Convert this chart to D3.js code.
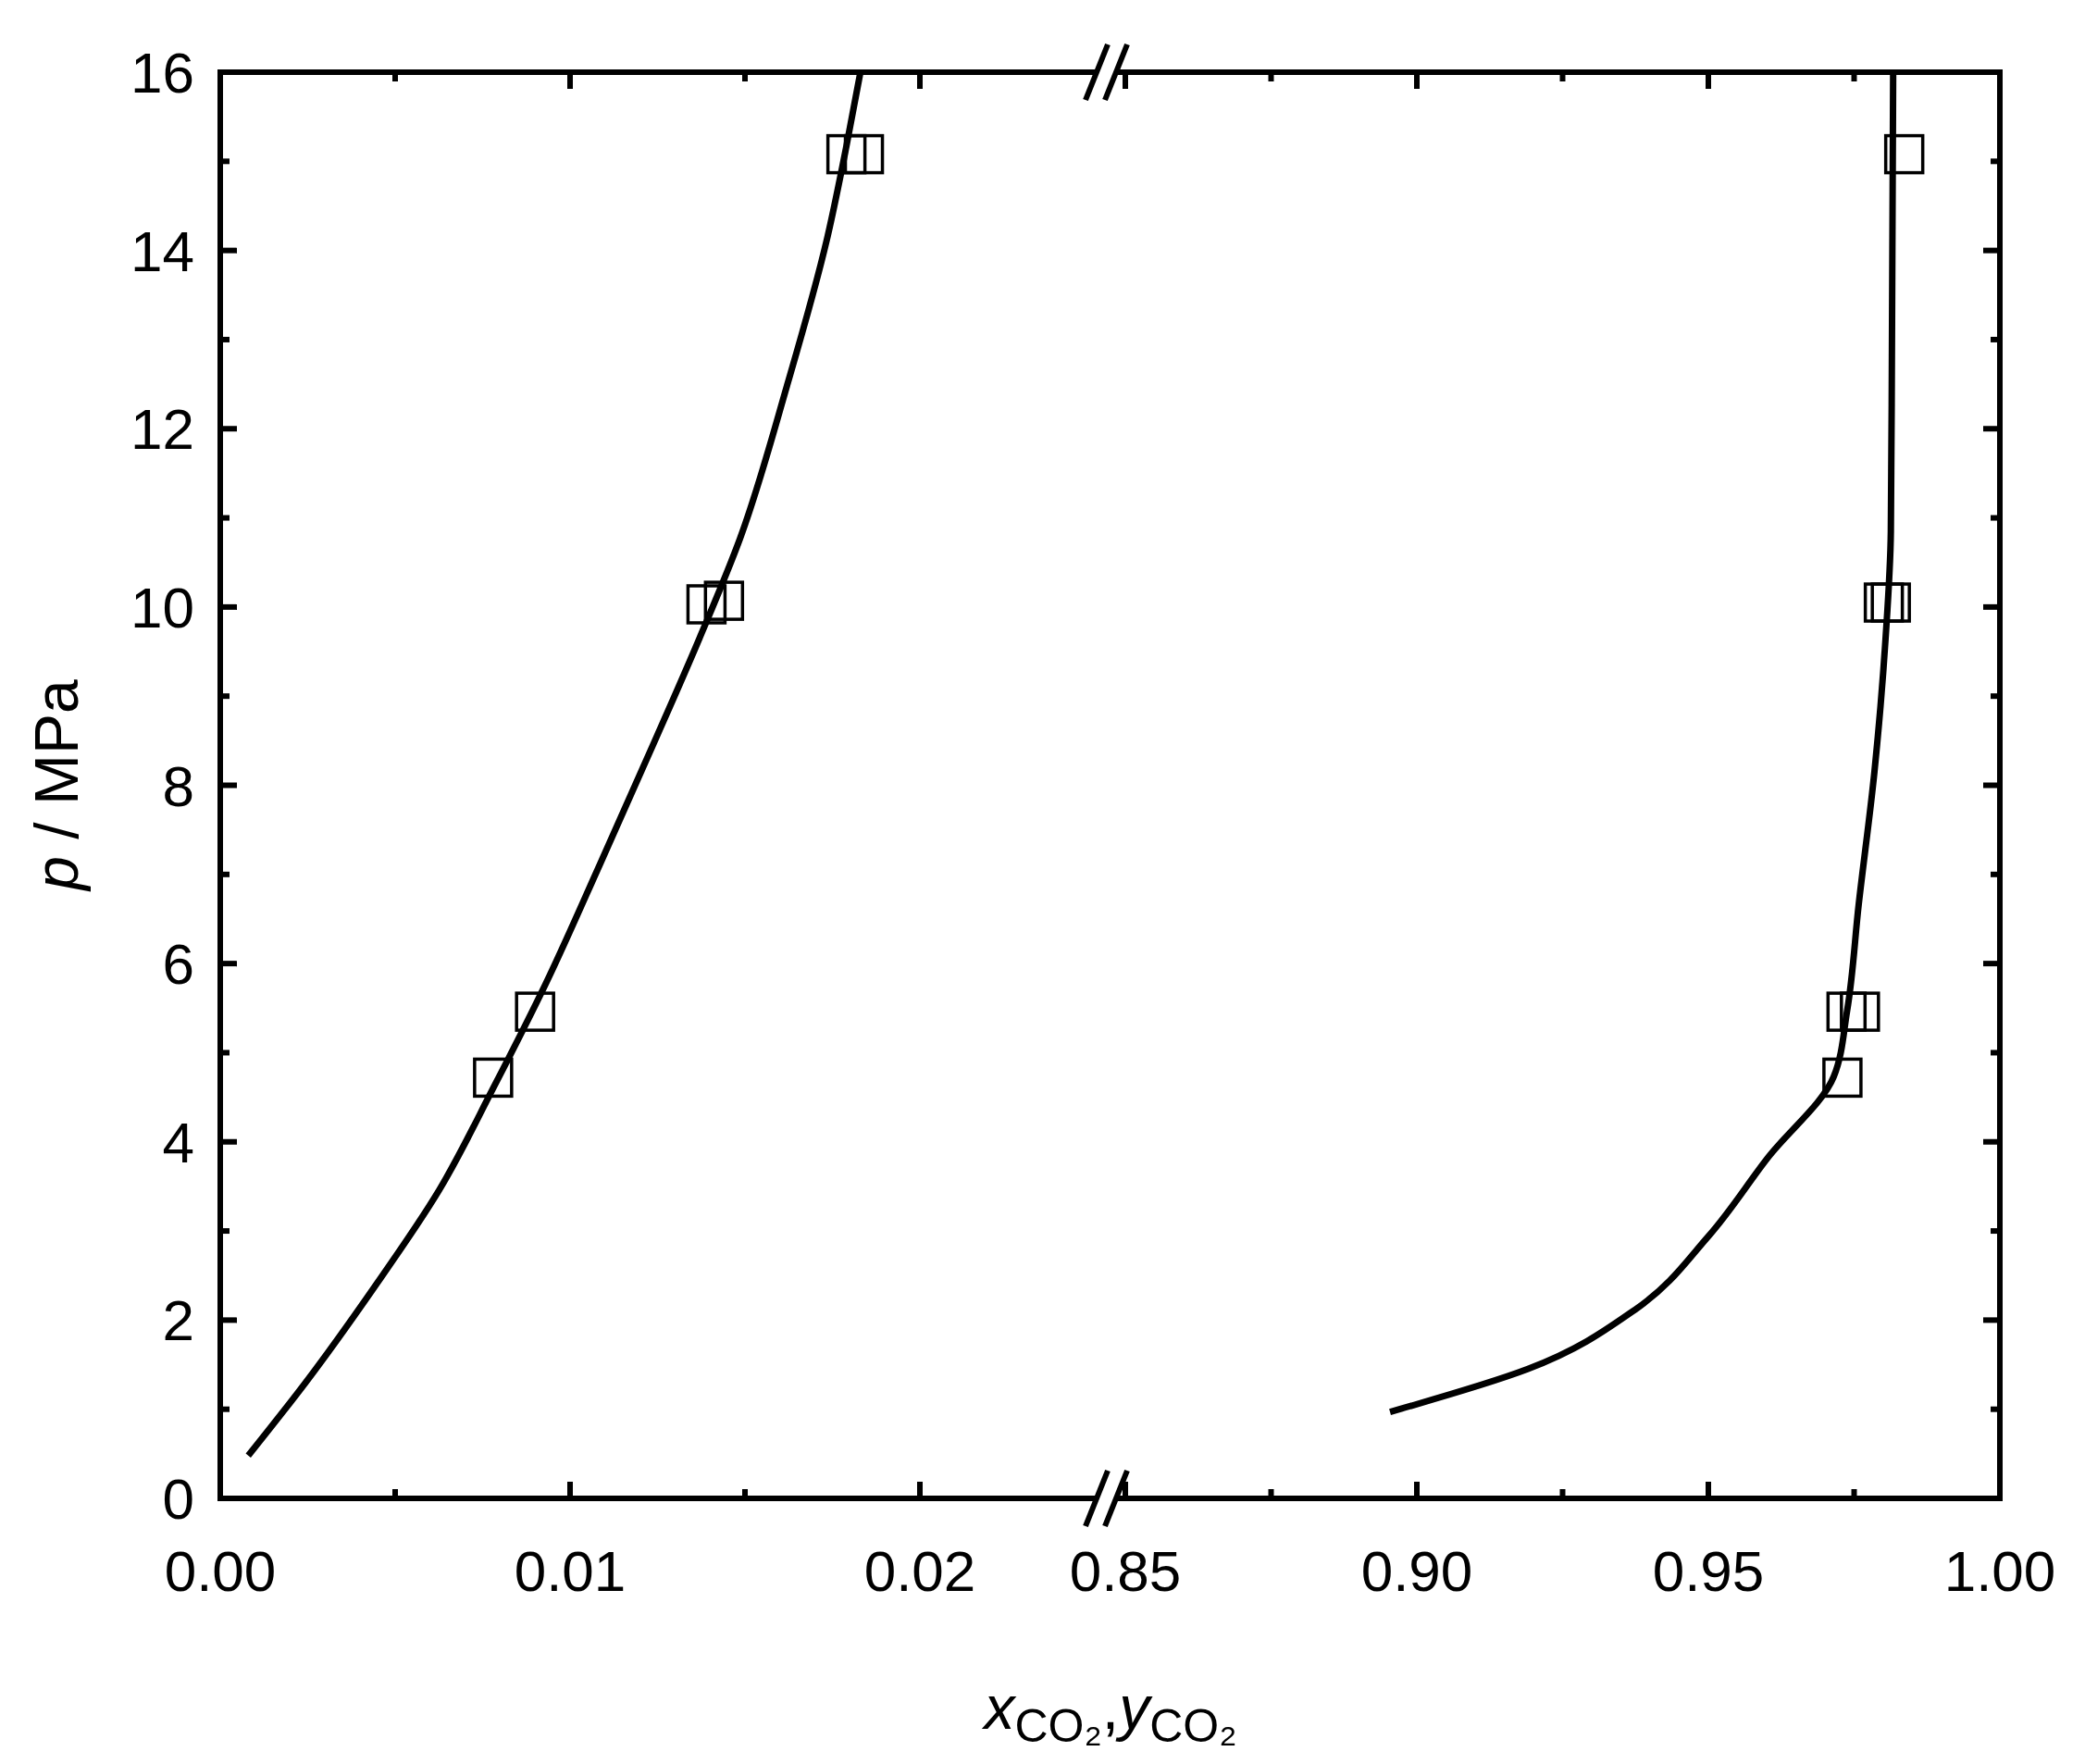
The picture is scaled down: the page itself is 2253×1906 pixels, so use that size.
<!DOCTYPE html>
<html><head><meta charset="utf-8">
<script src="https://cdn.jsdelivr.net/npm/d3@7"></script>
<style>body{margin:0;background:#fff}text{font-family:Arial,"Liberation Sans",sans-serif}</style>
</head><body>
<script>
// left segment (liquid x) and right segment (vapour y)
var liqCurveX = [0.0008,0.00244,0.00435,0.00626,0.0078,0.0093,0.01085,0.01238,0.0137,0.01486,0.0162,0.01734,0.0179,0.0183];
var liqCurveP = [0.48,1.3,2.34,3.46,4.6,5.77,7.11,8.46,9.65,10.77,12.48,14.12,15.17,16];
var vapCurveY = [0.8954,0.919,0.9375,0.95,0.9603,0.9715,0.9738,0.9758,0.9785,0.9804,0.9813,0.9815,0.9817];
var vapCurveP = [0.97,1.45,2.12,2.94,3.83,4.73,5.47,6.67,8.16,9.65,10.84,13.08,16];
var expX = [0.0078,0.009,0.0139,0.0144,0.0179,0.0184,0.973,0.9737,0.976,0.9801,0.9813,0.9836];
var expP = [4.72,5.46,10.03,10.07,15.08,15.08,4.72,5.46,5.46,10.05,10.05,15.08];
var leftMajor = [0,0.01,0.02], leftMinor = [0.005,0.015];
var leftLabels = ["0.00","0.01","0.02"];
var rightMajor = [0.85,0.9,0.95,1.0], rightMinor = [0.875,0.925,0.975];
var rightLabels = ["0.85","0.90","0.95","1.00"];
var yMajor = [0,2,4,6,8,10,12,14,16];

var W = 2253, H = 1906;
var L = 238, R = 2161, T = 78, B = 1619, brk1 = 1185, brk2 = 1216;
var xl = d3.scaleLinear().domain([0,0.01]).range([L,L+378]);
var xr = d3.scaleLinear().domain([0.85,1.0]).range([brk2,R]);
var y = d3.scaleLinear().domain([0,16]).range([B,T]);
function X(v){ return v < 0.5 ? xl(v) : xr(v); }

var svg = d3.select('body').append('svg').attr('width',W).attr('height',H);
var line = d3.line().x(function(d){return X(d[0]);}).y(function(d){return y(d[1]);}).curve(d3.curveMonotoneY);

svg.append('path').datum(d3.zip(liqCurveX,liqCurveP)).attr('d',line)
  .attr('fill','none').attr('stroke','#000').attr('stroke-width',7);
svg.append('path').datum(d3.zip(vapCurveY,vapCurveP)).attr('d',line)
  .attr('fill','none').attr('stroke','#000').attr('stroke-width',7);

var s = 40;
svg.selectAll('rect.pt').data(d3.zip(expX,expP)).enter().append('rect')
  .attr('x',function(d){return X(d[0])-s/2;}).attr('y',function(d){return y(d[1])-s/2;})
  .attr('width',s).attr('height',s).attr('fill','none').attr('stroke','#000').attr('stroke-width',3.5);

// frame
var fw = 6;
var g = svg.append('g').attr('stroke','#000').attr('stroke-width',fw);
g.append('line').attr('x1',L).attr('x2',L).attr('y1',T).attr('y2',B);
g.append('line').attr('x1',R).attr('x2',R).attr('y1',T).attr('y2',B);
[T,B].forEach(function(yy){
  g.append('line').attr('x1',L-fw/2).attr('x2',brk1).attr('y1',yy).attr('y2',yy);
  g.append('line').attr('x1',brk2-8).attr('x2',R+fw/2).attr('y1',yy).attr('y2',yy);
  g.append('line').attr('x1',brk1-12).attr('x2',brk1+12).attr('y1',yy+30).attr('y2',yy-30);
  g.append('line').attr('x1',brk2-22).attr('x2',brk2+2).attr('y1',yy+30).attr('y2',yy-30);
});

// ticks
var maj = 18, mnr = 10;
function xt(v,len){
  g.append('line').attr('x1',X(v)).attr('x2',X(v)).attr('y1',B).attr('y2',B-len);
  g.append('line').attr('x1',X(v)).attr('x2',X(v)).attr('y1',T).attr('y2',T+len);
}
leftMajor.concat(rightMajor).forEach(function(v){xt(v,maj);});
leftMinor.concat(rightMinor).forEach(function(v){xt(v,mnr);});
d3.range(0,16.5,1).forEach(function(v){
  var len = v%2===0 ? maj : mnr;
  g.append('line').attr('x1',L).attr('x2',L+len).attr('y1',y(v)).attr('y2',y(v));
  g.append('line').attr('x1',R).attr('x2',R-len).attr('y1',y(v)).attr('y2',y(v));
});

var fs = 62;
svg.selectAll('text.xl').data(d3.zip(leftMajor.concat(rightMajor),leftLabels.concat(rightLabels))).enter()
  .append('text').attr('x',function(d){return X(d[0]);}).attr('y',B+100)
  .attr('text-anchor','middle').attr('font-size',fs).text(function(d){return d[1];});
svg.selectAll('text.yl').data(yMajor).enter().append('text')
  .attr('x',L-28).attr('y',function(d){return y(d)+22;}).attr('text-anchor','end')
  .attr('font-size',fs).text(function(d){return d;});

var yl = svg.append('text').attr('transform','translate(84,848) rotate(-90)')
  .attr('text-anchor','middle').attr('font-size',66);
yl.append('tspan').attr('font-style','italic').text('p');
yl.append('tspan').text(' / MPa');

var xlab = svg.append('text').attr('x',1200).attr('y',1868).attr('text-anchor','middle').attr('font-size',66);
xlab.append('tspan').attr('font-style','italic').text('x');
xlab.append('tspan').attr('font-size',50).attr('dy',14).text('CO\u2082');
xlab.append('tspan').attr('dy',-14).text(',');
xlab.append('tspan').attr('font-style','italic').text('y');
xlab.append('tspan').attr('font-size',50).attr('dy',14).text('CO\u2082');
</script>
</body></html>
